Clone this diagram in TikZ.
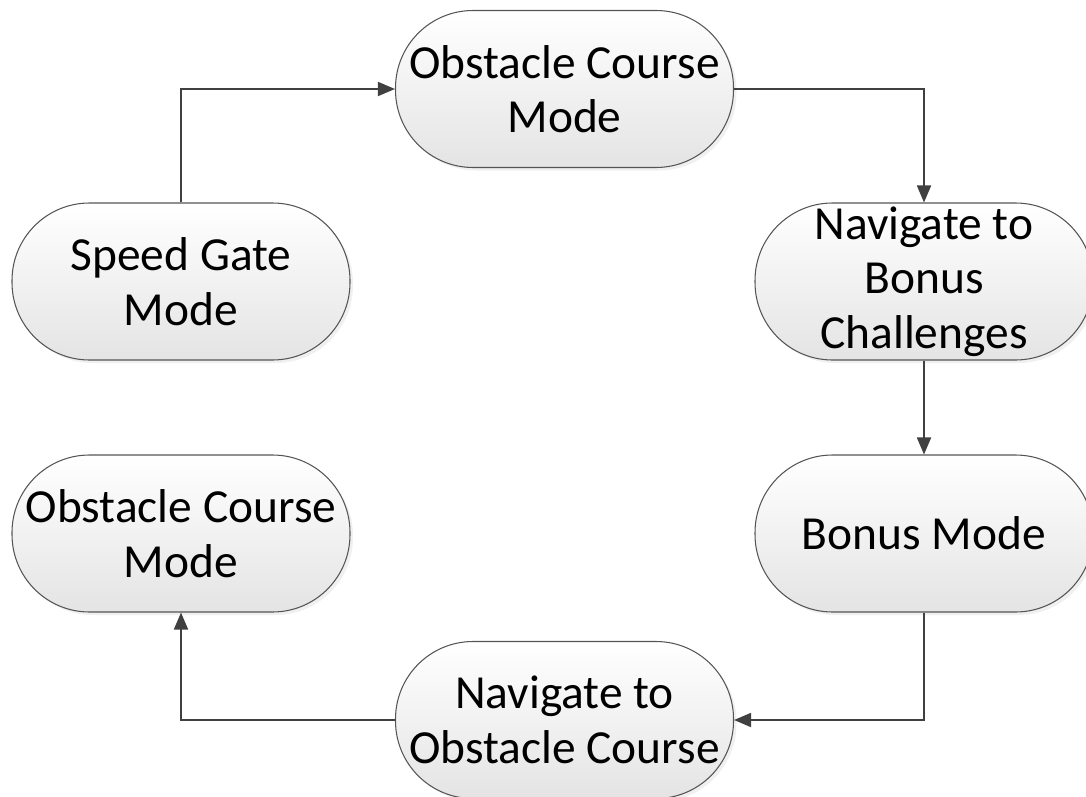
\documentclass[tikz,border=0pt]{standalone}
\usepackage{fontspec}
\setmainfont{Carlito}
\usetikzlibrary{positioning,arrows.meta,shadows}

\definecolor{modeline}{RGB}{85,85,85}
\definecolor{flowline}{RGB}{64,64,64}
\definecolor{modefill}{RGB}{228,228,228}

\begin{document}
\begin{tikzpicture}[%
	    >={Triangle[length=0.34cm,width=0.28cm]},
	    on grid,
	    mode/.style={draw=modeline, line width=0.6pt,
	      rounded corners=1.55cm,
	      top color=white, bottom color=modefill,
	      drop shadow={opacity=0.12, shadow xshift=0.06cm, shadow yshift=-0.06cm},
	      minimum width=6.76cm, minimum height=3.14cm,
	      inner sep=0pt, align=center,
	      font=\fontsize{27}{31}\selectfont},
	    flow/.style={->, draw=flowline, line width=1pt}
	  ]

	  \useasboundingbox (0,0) rectangle (21.72,15.92);

	  \node[mode] (SGM) at (3.62,10.29) {Speed Gate\\Mode};
	  \node[mode] (OCM) [above right=3.85cm and 7.67cm of SGM] {Obstacle Course\\Mode};
	  \node[mode] (NBC) [below right=3.85cm and 7.19cm of OCM] {Navigate to\\Bonus\\Challenges};
	  \node[mode] (BM) [below=5.04cm of NBC] {Bonus Mode};
	  \node[mode] (NOC) [below left=3.73cm and 7.19cm of BM] {Navigate to\\Obstacle Course};
	  \node[mode] (OCM2) [below=5.04cm of SGM] {Obstacle Course\\Mode};

	  % mode cycle
	  \draw[flow] (SGM.north) |- (OCM.west);
	  \draw[flow] (OCM.east) -| (NBC.north);
	  \draw[flow] (NBC.south) -- (BM.north);
	  \draw[flow] (BM.south) |- (NOC.east);
	  \draw[flow] (NOC.west) -| (OCM2.south);

\end{tikzpicture}
\end{document}
